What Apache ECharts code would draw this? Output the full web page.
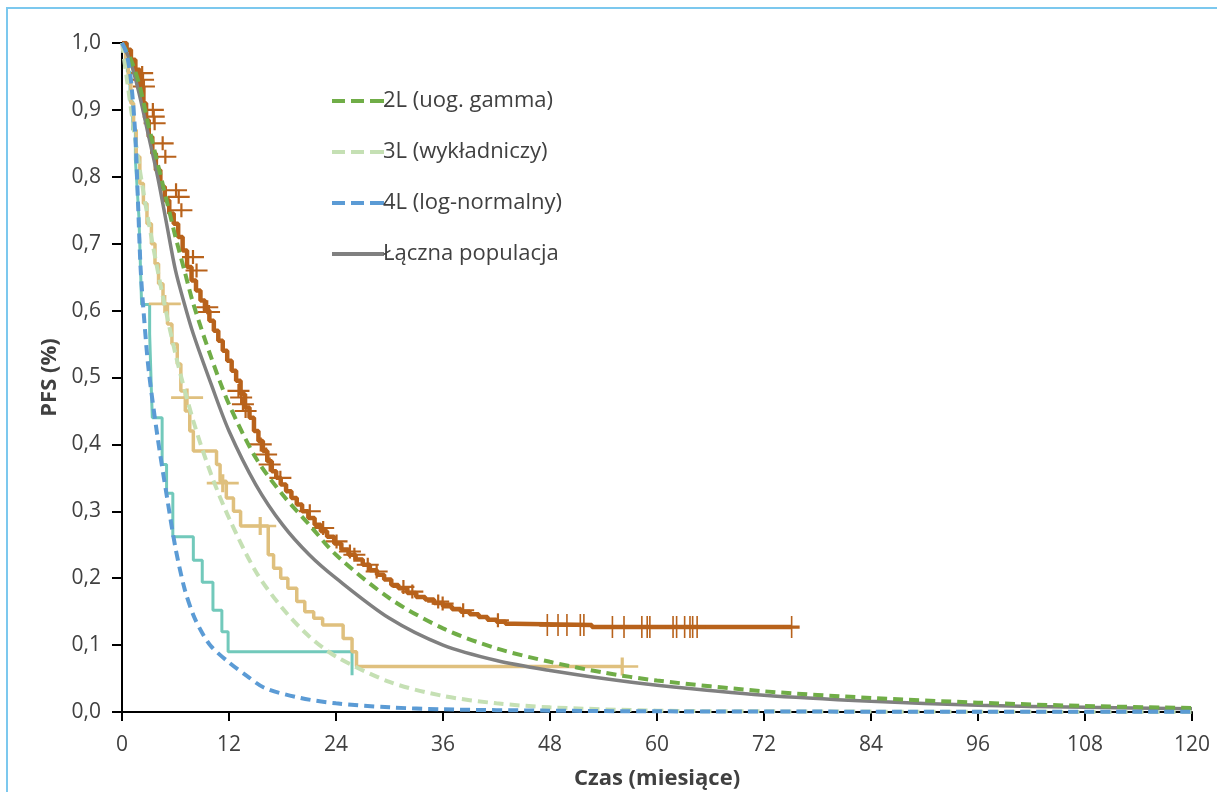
<!DOCTYPE html>
<html>
<head>
<meta charset="utf-8">
<script src="https://cdn.jsdelivr.net/npm/echarts@6/dist/echarts.min.js"></script>
<style>
html,body{margin:0;padding:0;background:#fff;}
#chart{width:1217px;height:792px;}
</style>
</head>
<body>
<div id="chart"></div>
<script>
// ---- Data ----
const seriesNames = ['2L (uog. gamma)', '3L (wykładniczy)', '4L (log-normalny)', 'Łączna populacja'];
const xAxisTitle = 'Czas (miesiące)';
const yAxisTitle = 'PFS (%)';

// Fitted curves [month, PFS]
const fit2L = [[0,1],[1,0.975],[2,0.935],[3,0.875],[4,0.82],[5,0.765],[6,0.71],[7,0.66],[8,0.61],[10,0.53],[12,0.46],[15,0.38],[18,0.325],[21,0.28],[24,0.235],[30,0.17],[36,0.125],[42,0.095],[48,0.075],[54,0.059],[60,0.047],[72,0.031],[84,0.021],[96,0.014],[108,0.009],[120,0.006]];
const fit3L = [[0,1],[2,0.81],[4,0.66],[6,0.535],[8,0.435],[10,0.355],[12,0.29],[15,0.21],[18,0.155],[21,0.113],[24,0.083],[30,0.045],[36,0.024],[42,0.013],[48,0.007],[60,0.002],[72,0.001],[96,0.0003],[120,0.0001]];
const fit4L = [[0,1],[0.5,0.985],[1,0.945],[1.5,0.86],[1.8,0.76],[2.1,0.66],[2.5,0.585],[3,0.51],[4,0.41],[5,0.325],[6,0.245],[7,0.185],[8,0.145],[9,0.118],[10,0.098],[12,0.074],[14,0.054],[16,0.036],[20,0.021],[24,0.013],[30,0.007],[36,0.004],[48,0.002],[60,0.001],[84,0.0005],[120,0.0002]];
const fitAll = [[0,1],[1,0.97],[2,0.92],[3,0.86],[4,0.80],[5,0.73],[6,0.66],[7,0.61],[8,0.565],[10,0.49],[12,0.42],[15,0.34],[18,0.28],[21,0.235],[24,0.20],[30,0.14],[36,0.10],[42,0.077],[48,0.062],[54,0.05],[60,0.04],[72,0.025],[84,0.016],[96,0.010],[108,0.007],[120,0.005]];

// Kaplan-Meier step curves [month of drop, PFS after drop]
const km2L = [[0,1],[0.5,0.99],[1,0.975],[1.5,0.96],[2,0.935],[2.4,0.91],[2.7,0.885],[3,0.86],[3.4,0.835],[3.8,0.81],[4.3,0.785],[4.8,0.765],[5.3,0.745],[5.8,0.73],[6.3,0.71],[6.8,0.69],[7.3,0.665],[7.8,0.645],[8.3,0.63],[8.8,0.615],[9.3,0.6],[9.8,0.585],[10.3,0.57],[10.8,0.555],[11.3,0.54],[11.8,0.525],[12.3,0.51],[12.8,0.495],[13.3,0.475],[13.8,0.455],[14.3,0.44],[14.8,0.42],[15.3,0.405],[15.8,0.39],[16.3,0.375],[16.8,0.36],[17.3,0.35],[17.8,0.34],[18.4,0.33],[19,0.32],[19.6,0.31],[20.2,0.3],[20.9,0.29],[21.6,0.28],[22.3,0.27],[23,0.262],[23.8,0.252],[24.6,0.243],[25.4,0.235],[26.2,0.228],[27,0.22],[27.8,0.212],[28.6,0.205],[29.4,0.198],[30.2,0.19],[31,0.185],[32,0.178],[33,0.172],[34,0.168],[35,0.163],[36,0.158],[37,0.154],[38,0.15],[39,0.146],[40,0.142],[41,0.138],[42,0.135],[43,0.132],[44,0.13],[52.7,0.127],[75.1,0.127]];
const km3L = [[0,1],[0.4,0.97],[0.7,0.94],[1,0.91],[1.3,0.87],[1.6,0.83],[2,0.79],[2.4,0.76],[2.8,0.73],[3.3,0.7],[3.7,0.67],[4.1,0.64],[4.6,0.61],[5.1,0.58],[5.6,0.55],[6.2,0.52],[6.6,0.48],[7.1,0.45],[7.6,0.42],[8,0.39],[10.6,0.37],[11,0.345],[11.7,0.32],[12.5,0.3],[13.3,0.278],[16.4,0.235],[17,0.215],[17.8,0.2],[18.6,0.185],[19.6,0.165],[20.5,0.15],[21.5,0.14],[22.5,0.13],[24.8,0.11],[25.8,0.09],[26.3,0.068],[56.1,0.068]];
const km4L = [[0,1],[0.6,0.957],[0.9,0.913],[1.2,0.87],[1.5,0.826],[1.7,0.783],[1.9,0.739],[2,0.696],[2.1,0.652],[2.2,0.609],[3.1,0.565],[3.2,0.522],[3.3,0.478],[3.4,0.44],[4.5,0.37],[5,0.327],[5.7,0.262],[8,0.227],[9,0.194],[10.2,0.152],[11.2,0.12],[11.9,0.09],[25.8,0.055]];

// Censoring marks [month, PFS]
const cens2Lslope = [[1.7,0.955],[1.8,0.945],[1.9,0.935],[2.9,0.9],[3.0,0.89],[3.1,0.88],[4.0,0.85],[4.3,0.83],[5.5,0.78],[5.8,0.77],[6.1,0.75],[7.4,0.68],[7.8,0.66],[9.0,0.605],[9.2,0.598],[12.5,0.48],[12.8,0.47],[13.0,0.46],[13.3,0.45],[15.0,0.40],[15.6,0.385],[16.0,0.37],[17.2,0.35],[20.5,0.3],[22.0,0.275],[23.5,0.255],[25.0,0.24],[25.5,0.235],[27.0,0.22],[28.0,0.21],[31.0,0.187],[32.0,0.18],[34.9,0.165],[35.4,0.162],[37.7,0.152],[41.6,0.137]];
const cens2Lflat = [[47.7,0.13],[48.9,0.13],[49.9,0.13],[51.4,0.13],[51.8,0.13],[55.0,0.127],[56.3,0.127],[58.3,0.127],[58.9,0.127],[59.2,0.127],[61.8,0.127],[62.2,0.127],[63.1,0.127],[63.7,0.127],[64.0,0.127],[64.5,0.127],[75.1,0.127]];
const cens3L = [[4.8,0.61],[7.3,0.47],[11.3,0.342],[15.5,0.278],[56.1,0.068]];

// ---- Styles ----
const C_GREEN = '#70AD47', C_LGREEN = '#C5E0B4', C_BLUE = '#5B9BD5', C_GRAY = '#808080';
const C_ORANGE = '#B8621B', C_TAN = '#DFC07E', C_TEAL = '#72C9BB';
const PLUS = 'path://M0,8.5H30V11.5H0Z M13.5,0H16.5V20H13.5Z';
const ICON_DASH = 'path://M0,0H13V4H0Z M19,0H32V4H19Z M38,0H52V4H38Z';
const ICON_SOLID = 'path://M0,0H52V4H0Z';
const FONT = '"Open Sans", "Noto Sans", sans-serif';

const chart = echarts.init(document.getElementById('chart'), null, {renderer: 'canvas'});

function km(name, data, color, width, z) {
  return {name, type: 'line', step: 'end', data, symbol: 'none', z,
    lineStyle: {color, width}, itemStyle: {color}, silent: true, legendHoverLink: false};
}
function fit(name, data, color, width, dashed, z) {
  return {name, type: 'line', smooth: 0.3, data, symbol: 'none', z,
    lineStyle: {color, width, type: dashed ? [10, 6] : 'solid', cap: 'butt'}, itemStyle: {color}};
}
function cens(name, data, color, size, offset, z) {
  return {name, type: 'scatter', data, symbol: PLUS, symbolSize: size, symbolOffset: offset, z,
    itemStyle: {color, opacity: 1}, silent: true};
}

chart.setOption({
  animation: false,
  backgroundColor: '#fff',
  graphic: [{type: 'rect', shape: {x: 7, y: 8, width: 1240, height: 800},
    style: {fill: 'none', stroke: '#7CC8EE', lineWidth: 2}, silent: true}],
  grid: {left: 122, right: 25, top: 43, bottom: 80, containLabel: false, outerBoundsMode: 'none'},
  legend: {
    data: [
      {name: seriesNames[0], icon: ICON_DASH},
      {name: seriesNames[1], icon: ICON_DASH},
      {name: seriesNames[2], icon: ICON_DASH},
      {name: seriesNames[3], icon: ICON_SOLID}
    ],
    orient: 'vertical', left: 327, top: 85,
    itemWidth: 52, itemHeight: 4, itemGap: 29,
    textStyle: {fontFamily: FONT, fontSize: 22, color: '#404040', padding: [0, 0, 0, -6]}
  },
  xAxis: {
    type: 'value', min: 0, max: 120, interval: 12,
    name: xAxisTitle, nameLocation: 'middle', nameGap: 56,
    nameTextStyle: {fontFamily: FONT, fontSize: 22, fontWeight: 'bold', color: '#404040'},
    axisLine: {lineStyle: {color: '#000', width: 2}},
    axisTick: {show: true, inside: false, length: 9, lineStyle: {color: '#000', width: 2}},
    axisLabel: {fontFamily: FONT, fontSize: 21, color: '#404040', margin: 23},
    splitLine: {show: false}
  },
  yAxis: {
    type: 'value', min: 0, max: 1, interval: 0.1,
    name: yAxisTitle, nameLocation: 'middle', nameGap: 60, nameRotate: 90,
    nameTextStyle: {fontFamily: FONT, fontSize: 22, fontWeight: 'bold', color: '#404040'},
    axisLine: {show: true, lineStyle: {color: '#000', width: 2}},
    axisTick: {show: true, inside: false, length: 10, lineStyle: {color: '#000', width: 2}},
    axisLabel: {fontFamily: FONT, fontSize: 21, color: '#404040', margin: 21,
      formatter: v => v.toFixed(1).replace('.', ',')},
    splitLine: {show: false}
  },
  series: [
    km('KM 4L', km4L, C_TEAL, 3, 2),
    km('KM 3L', km3L, C_TAN, 3.5, 2),
    cens('C 3L', cens3L, C_TAN, [32, 18], [0, 0], 2),
    km('KM 2L', km2L, C_ORANGE, 4.5, 3),
    cens('C 2L a', cens2Lslope, C_ORANGE, [22, 14], [5, 0], 3),
    cens('C 2L b', cens2Lflat, C_ORANGE, [16, 22], [0, 0], 3),
    fit(seriesNames[3], fitAll, C_GRAY, 3.5, false, 5),
    fit(seriesNames[0], fit2L, C_GREEN, 4, true, 6),
    fit(seriesNames[1], fit3L, C_LGREEN, 4, true, 6),
    fit(seriesNames[2], fit4L, C_BLUE, 4, true, 6)
  ]
});
</script>
</body>
</html>
